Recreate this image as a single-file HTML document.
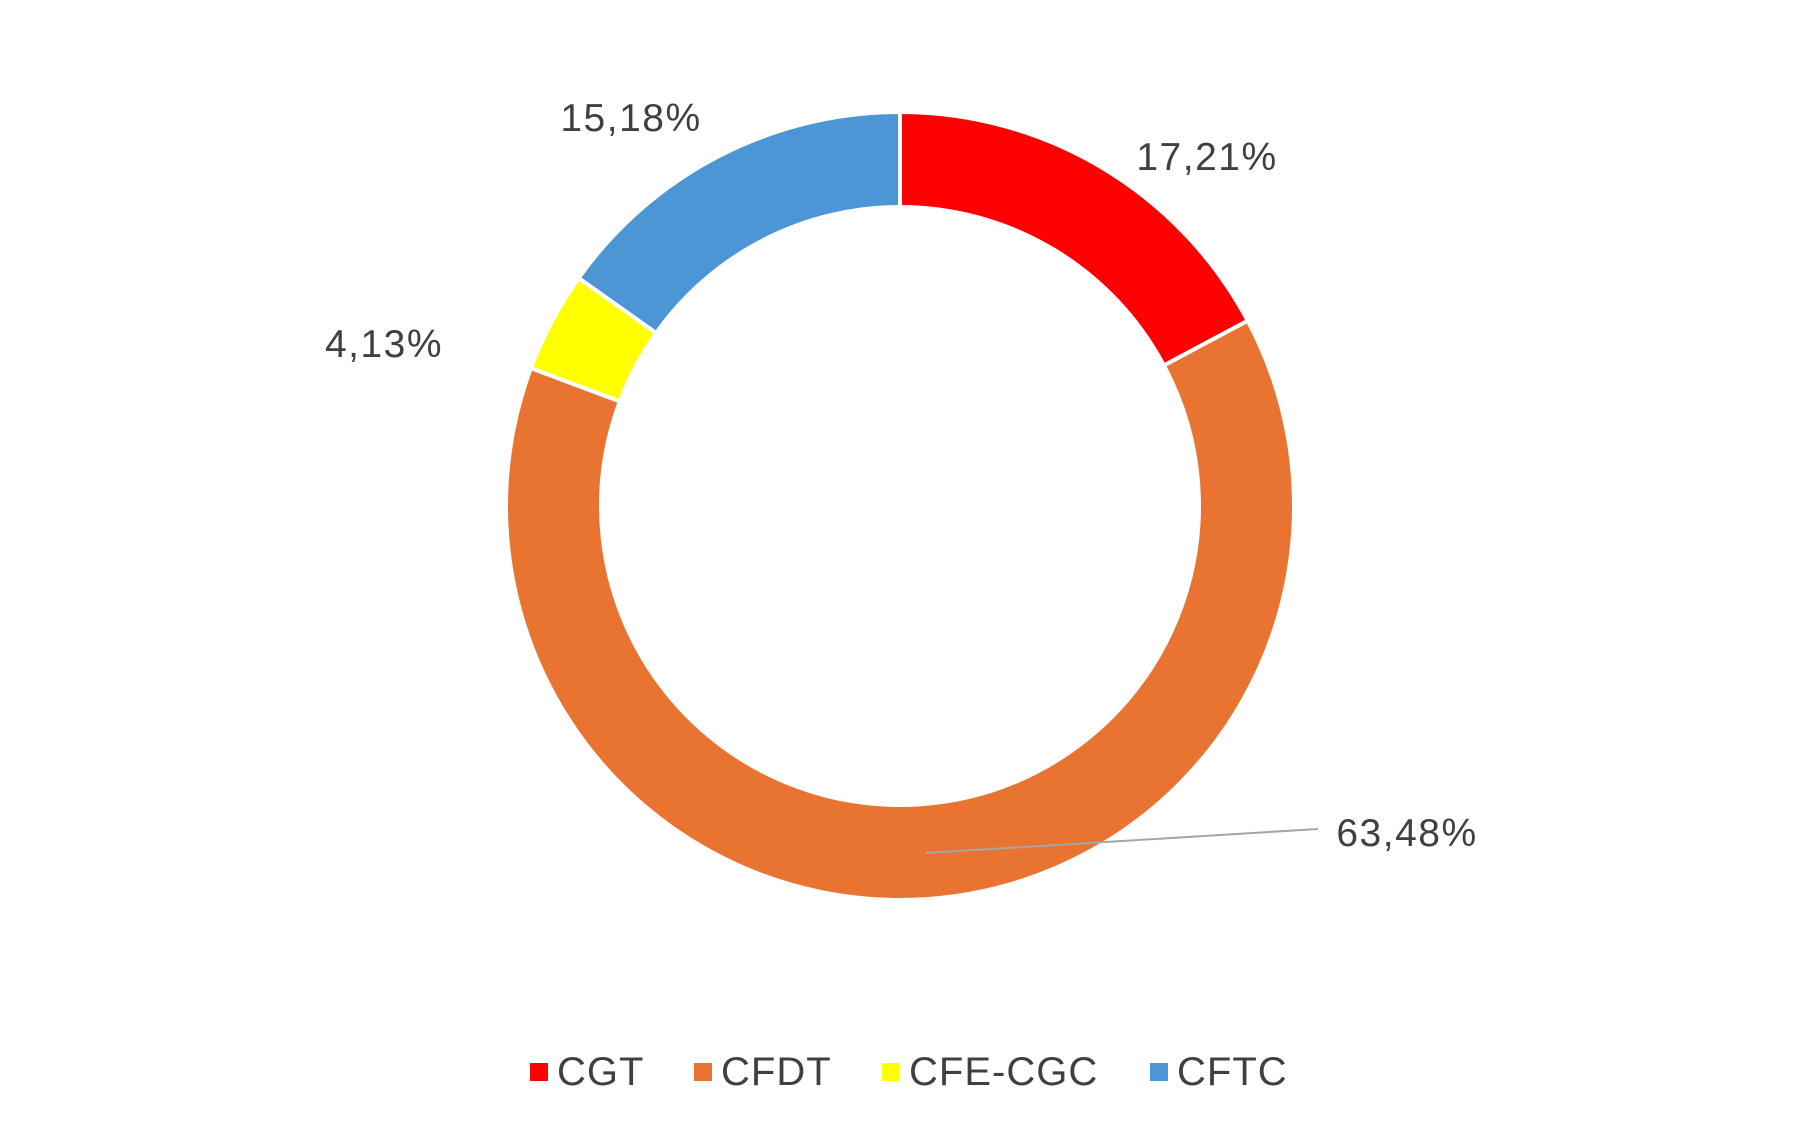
<!DOCTYPE html>
<html><head><meta charset="utf-8"><style>
html,body{margin:0;padding:0;background:#fff;}
svg{display:block;font-family:"Liberation Sans",sans-serif;}
</style></head><body>
<svg id="chart" width="1812" height="1132" viewBox="0 0 1812 1132">
<g id="slices"></g>
<line x1="926" y1="853" x2="1318" y2="829" stroke="#a6a6a6" stroke-width="2"/>
<g id="labels"></g>
<g id="legend"></g>
</svg>
<script>
const categories = ["CGT","CFDT","CFE-CGC","CFTC"];
const values = [17.21, 63.48, 4.13, 15.18];
const valueLabels = ["17,21%","63,48%","4,13%","15,18%"];
const colors = ["#ff0000","#e97432","#ffff00","#4d96d6"];
const labelPos = [[1207,170],[1407,846],[384,357],[631,131]];
const legendX = [530,694,882,1150];

const NS="http://www.w3.org/2000/svg";
const cx=900, cy=506, R=394, r=299;
const total = values.reduce((a,b)=>a+b,0);
const sg=document.getElementById('slices');
let a0=0;
function pt(rad,a){return [cx+rad*Math.sin(a), cy-rad*Math.cos(a)];}
values.forEach((v,i)=>{
  const a1=a0+v/total*2*Math.PI;
  const large=(a1-a0)>Math.PI?1:0;
  const [x1,y1]=pt(R,a0),[x2,y2]=pt(R,a1),[x3,y3]=pt(r,a1),[x4,y4]=pt(r,a0);
  const p=document.createElementNS(NS,'path');
  p.setAttribute('d',`M${x1},${y1}A${R},${R} 0 ${large} 1 ${x2},${y2}L${x3},${y3}A${r},${r} 0 ${large} 0 ${x4},${y4}Z`);
  p.setAttribute('fill',colors[i]);
  p.setAttribute('stroke','#fff');
  p.setAttribute('stroke-width','4');
  
  
  sg.appendChild(p);
  a0=a1;
});
const lg=document.getElementById('labels');
valueLabels.forEach((t,i)=>{
  const tx=document.createElementNS(NS,'text');
  tx.setAttribute('x',labelPos[i][0]);tx.setAttribute('y',labelPos[i][1]);
  tx.setAttribute('text-anchor','middle');tx.setAttribute('font-size','39');
  tx.setAttribute('letter-spacing','1.5');
  tx.setAttribute('fill','#404040');tx.textContent=t;
  
  
  lg.appendChild(tx);
});
const leg=document.getElementById('legend');
categories.forEach((c,i)=>{
  const g=document.createElementNS(NS,'g');
  
  
  const s=document.createElementNS(NS,'rect');
  s.setAttribute('x',legendX[i]);s.setAttribute('y',1063);s.setAttribute('width',18);s.setAttribute('height',18);
  s.setAttribute('fill',colors[i]);
  const t=document.createElementNS(NS,'text');
  t.setAttribute('x',legendX[i]+27);t.setAttribute('y',1085);t.setAttribute('font-size','40');
  t.setAttribute('letter-spacing','1');
  t.setAttribute('fill','#404040');t.textContent=c;
  g.appendChild(s);g.appendChild(t);leg.appendChild(g);
});
</script>
</body></html>
